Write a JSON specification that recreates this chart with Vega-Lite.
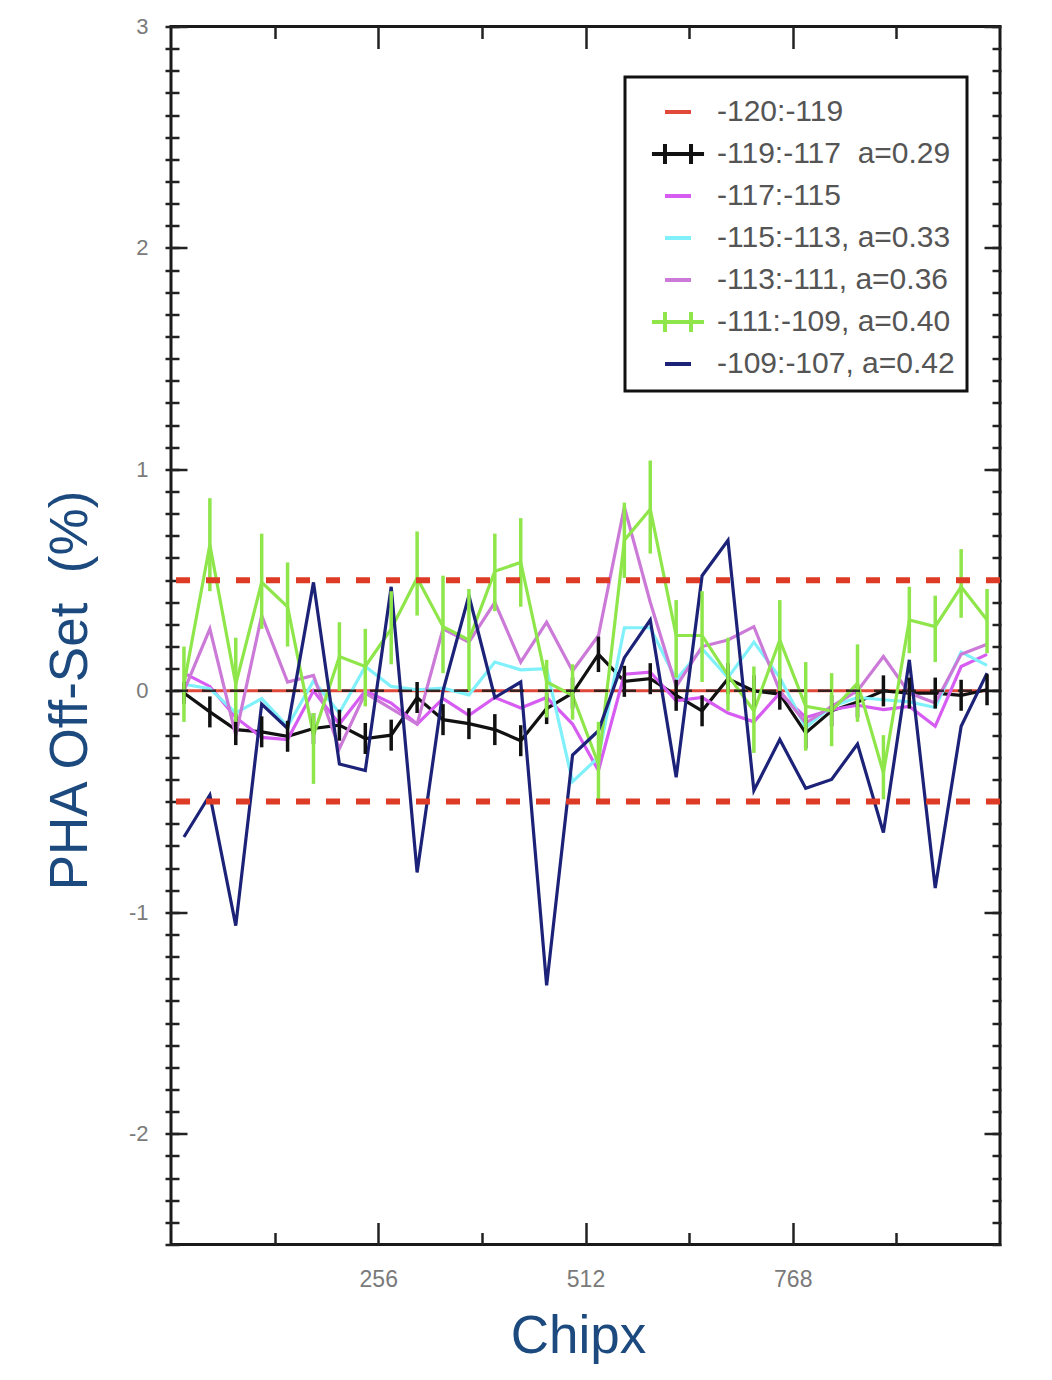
{
  "$schema": "https://vega.github.io/schema/vega-lite/v6.json",
  "width": 829,
  "height": 1218,
  "autosize": {"type": "none"},
  "padding": {"left": 171, "top": 26.5, "right": 52, "bottom": 135.5},
  "background": "white",
  "config": {
    "view": {"stroke": "#1a1a1a", "strokeWidth": 3},
    "axis": {
      "domain": false,
      "grid": false,
      "tickColor": "#222222",
      "tickWidth": 2.5,
      "labelFont": "Liberation Sans",
      "labelColor": "#7a7a7a",
      "labelFontSize": 22,
      "titleFont": "Liberation Sans",
      "titleFontWeight": "normal",
      "titleColor": "#1d4a7e",
      "titleFontSize": 53
    }
  },
  "datasets": {
    "pts": [
      {"x": 16, "R": 0, "K": -0.01, "M": 0.08, "C": 0.03, "O": 0.0, "G": 0.03, "B": -0.66},
      {"x": 48, "R": 0, "K": -0.095, "M": 0.02, "C": 0.01, "O": 0.28, "G": 0.66, "B": -0.47},
      {"x": 80, "R": 0, "K": -0.175, "M": -0.12, "C": -0.1, "O": -0.2, "G": 0.03, "B": -1.06},
      {"x": 112, "R": 0, "K": -0.185, "M": -0.21, "C": -0.035, "O": 0.34, "G": 0.49, "B": -0.06},
      {"x": 144, "R": 0, "K": -0.205, "M": -0.22, "C": -0.16, "O": 0.04, "G": 0.38, "B": -0.17},
      {"x": 176, "R": 0, "K": -0.17, "M": 0.0, "C": 0.045, "O": 0.07, "G": -0.2, "B": 0.49},
      {"x": 208, "R": 0, "K": -0.155, "M": -0.15, "C": -0.1, "O": -0.26, "G": 0.155, "B": -0.33},
      {"x": 240, "R": 0, "K": -0.215, "M": 0.0, "C": 0.11, "O": -0.01, "G": 0.11, "B": -0.36},
      {"x": 272, "R": 0, "K": -0.2, "M": -0.055, "C": 0.02, "O": -0.08, "G": 0.28, "B": 0.47},
      {"x": 304, "R": 0, "K": -0.03, "M": -0.15, "C": 0.005, "O": -0.15, "G": 0.51, "B": -0.82},
      {"x": 336, "R": 0, "K": -0.13, "M": -0.035, "C": 0.012, "O": 0.28, "G": 0.29, "B": 0.0},
      {"x": 368, "R": 0, "K": -0.148, "M": -0.11, "C": -0.018, "O": 0.22, "G": 0.23, "B": 0.43},
      {"x": 400, "R": 0, "K": -0.175, "M": -0.03, "C": 0.13, "O": 0.4, "G": 0.54, "B": -0.03},
      {"x": 432, "R": 0, "K": -0.225, "M": -0.077, "C": 0.095, "O": 0.13, "G": 0.58, "B": 0.04},
      {"x": 464, "R": 0, "K": -0.08, "M": -0.03, "C": 0.1, "O": 0.31, "G": 0.04, "B": -1.33},
      {"x": 496, "R": 0, "K": -0.01, "M": -0.15, "C": -0.41, "O": 0.09, "G": -0.02, "B": -0.29},
      {"x": 528, "R": 0, "K": 0.165, "M": -0.36, "C": -0.3, "O": 0.25, "G": -0.33, "B": -0.18},
      {"x": 560, "R": 0, "K": 0.043, "M": 0.075, "C": 0.285, "O": 0.83, "G": 0.68, "B": 0.15},
      {"x": 592, "R": 0, "K": 0.055, "M": 0.085, "C": 0.285, "O": 0.4, "G": 0.82, "B": 0.32},
      {"x": 624, "R": 0, "K": -0.02, "M": -0.045, "C": 0.05, "O": 0.02, "G": 0.25, "B": -0.39},
      {"x": 656, "R": 0, "K": -0.09, "M": -0.03, "C": 0.19, "O": 0.2, "G": 0.25, "B": 0.52},
      {"x": 688, "R": 0, "K": 0.055, "M": -0.1, "C": 0.06, "O": 0.23, "G": 0.07, "B": 0.68},
      {"x": 720, "R": 0, "K": 0.0, "M": -0.14, "C": 0.22, "O": 0.29, "G": -0.09, "B": -0.45},
      {"x": 752, "R": 0, "K": -0.015, "M": -0.01, "C": 0.06, "O": 0.0, "G": 0.23, "B": -0.22},
      {"x": 784, "R": 0, "K": -0.19, "M": -0.12, "C": -0.165, "O": -0.145, "G": -0.07, "B": -0.44},
      {"x": 816, "R": 0, "K": -0.09, "M": -0.085, "C": -0.07, "O": -0.07, "G": -0.09, "B": -0.4},
      {"x": 848, "R": 0, "K": -0.05, "M": -0.065, "C": -0.03, "O": 0.0, "G": 0.035, "B": -0.24},
      {"x": 880, "R": 0, "K": 0.0, "M": -0.085, "C": -0.04, "O": 0.155, "G": -0.37, "B": -0.64},
      {"x": 912, "R": 0, "K": -0.01, "M": -0.07, "C": -0.05, "O": -0.01, "G": 0.32, "B": 0.14},
      {"x": 944, "R": 0, "K": -0.01, "M": -0.16, "C": -0.075, "O": -0.055, "G": 0.29, "B": -0.89},
      {"x": 976, "R": 0, "K": -0.02, "M": 0.11, "C": 0.175, "O": 0.165, "G": 0.47, "B": -0.16},
      {"x": 1008, "R": 0, "K": 0.005, "M": 0.165, "C": 0.115, "O": 0.21, "G": 0.32, "B": 0.08}
    ],
    "err": [
      {"s": "K", "x": 16, "lo": -0.06, "hi": 0.04},
      {"s": "K", "x": 48, "lo": -0.165, "hi": -0.025},
      {"s": "K", "x": 80, "lo": -0.245, "hi": -0.105},
      {"s": "K", "x": 112, "lo": -0.255, "hi": -0.115},
      {"s": "K", "x": 144, "lo": -0.275, "hi": -0.135},
      {"s": "K", "x": 176, "lo": -0.24, "hi": -0.1},
      {"s": "K", "x": 208, "lo": -0.225, "hi": -0.085},
      {"s": "K", "x": 240, "lo": -0.285, "hi": -0.145},
      {"s": "K", "x": 272, "lo": -0.27, "hi": -0.13},
      {"s": "K", "x": 304, "lo": -0.1, "hi": 0.04},
      {"s": "K", "x": 336, "lo": -0.2, "hi": -0.06},
      {"s": "K", "x": 368, "lo": -0.218, "hi": -0.078},
      {"s": "K", "x": 400, "lo": -0.245, "hi": -0.105},
      {"s": "K", "x": 432, "lo": -0.295, "hi": -0.155},
      {"s": "K", "x": 464, "lo": -0.15, "hi": -0.01},
      {"s": "K", "x": 496, "lo": -0.08, "hi": 0.06},
      {"s": "K", "x": 528, "lo": 0.085, "hi": 0.245},
      {"s": "K", "x": 560, "lo": -0.027, "hi": 0.113},
      {"s": "K", "x": 592, "lo": -0.015, "hi": 0.125},
      {"s": "K", "x": 624, "lo": -0.09, "hi": 0.05},
      {"s": "K", "x": 656, "lo": -0.16, "hi": -0.02},
      {"s": "K", "x": 688, "lo": -0.015, "hi": 0.125},
      {"s": "K", "x": 720, "lo": -0.07, "hi": 0.07},
      {"s": "K", "x": 752, "lo": -0.085, "hi": 0.055},
      {"s": "K", "x": 784, "lo": -0.26, "hi": -0.12},
      {"s": "K", "x": 816, "lo": -0.16, "hi": -0.02},
      {"s": "K", "x": 848, "lo": -0.12, "hi": 0.02},
      {"s": "K", "x": 880, "lo": -0.07, "hi": 0.07},
      {"s": "K", "x": 912, "lo": -0.08, "hi": 0.06},
      {"s": "K", "x": 944, "lo": -0.08, "hi": 0.06},
      {"s": "K", "x": 976, "lo": -0.09, "hi": 0.05},
      {"s": "K", "x": 1008, "lo": -0.065, "hi": 0.075},
      {"s": "G", "x": 16, "lo": -0.14, "hi": 0.2},
      {"s": "G", "x": 48, "lo": 0.45, "hi": 0.87},
      {"s": "G", "x": 80, "lo": -0.14, "hi": 0.24},
      {"s": "G", "x": 112, "lo": 0.28, "hi": 0.71},
      {"s": "G", "x": 144, "lo": 0.2, "hi": 0.58},
      {"s": "G", "x": 176, "lo": -0.42, "hi": -0.1},
      {"s": "G", "x": 208, "lo": 0.0, "hi": 0.31},
      {"s": "G", "x": 240, "lo": -0.07, "hi": 0.28},
      {"s": "G", "x": 272, "lo": 0.12, "hi": 0.45},
      {"s": "G", "x": 304, "lo": 0.34, "hi": 0.72},
      {"s": "G", "x": 336, "lo": 0.08, "hi": 0.52},
      {"s": "G", "x": 368, "lo": 0.0, "hi": 0.46},
      {"s": "G", "x": 400, "lo": 0.36, "hi": 0.71},
      {"s": "G", "x": 432, "lo": 0.38, "hi": 0.78},
      {"s": "G", "x": 464, "lo": -0.12, "hi": 0.14},
      {"s": "G", "x": 496, "lo": -0.13, "hi": 0.12},
      {"s": "G", "x": 528, "lo": -0.49, "hi": -0.14},
      {"s": "G", "x": 560, "lo": 0.51, "hi": 0.85},
      {"s": "G", "x": 592, "lo": 0.62, "hi": 1.04},
      {"s": "G", "x": 624, "lo": 0.06, "hi": 0.41},
      {"s": "G", "x": 656, "lo": 0.04, "hi": 0.45},
      {"s": "G", "x": 688, "lo": -0.09, "hi": 0.24},
      {"s": "G", "x": 720, "lo": -0.28, "hi": 0.11},
      {"s": "G", "x": 752, "lo": 0.0, "hi": 0.41},
      {"s": "G", "x": 784, "lo": -0.27, "hi": 0.13},
      {"s": "G", "x": 816, "lo": -0.25, "hi": 0.08},
      {"s": "G", "x": 848, "lo": -0.14, "hi": 0.21},
      {"s": "G", "x": 880, "lo": -0.49, "hi": -0.2},
      {"s": "G", "x": 912, "lo": 0.17, "hi": 0.47},
      {"s": "G", "x": 944, "lo": 0.13, "hi": 0.43},
      {"s": "G", "x": 976, "lo": 0.33, "hi": 0.64},
      {"s": "G", "x": 1008, "lo": 0.17, "hi": 0.46}
    ]
  },
  "layer": [
    {
      "data": {"name": "pts"},
      "transform": [{"fold": ["R"], "as": ["s", "v"]}],
      "mark": {"type": "line", "strokeWidth": 3},
      "encoding": {
        "x": {
          "field": "x", "type": "quantitative",
          "scale": {"domain": [0, 1024], "nice": false, "zero": false},
          "axis": {"orient": "top", "values": [128, 384, 640, 896], "tickSize": 12, "offset": -12, "labels": false, "title": null}
        },
        "y": {
          "field": "v", "type": "quantitative",
          "scale": {"domain": [-2.5, 3], "nice": false, "zero": false},
          "axis": {"orient": "right", "values": [-2.5, -2.4, -2.3, -2.2, -2.1, -2, -1.9, -1.8, -1.7, -1.6, -1.5, -1.4, -1.3, -1.2, -1.1, -1, -0.9, -0.8, -0.7, -0.6, -0.5, -0.4, -0.3, -0.2, -0.1, 0, 0.1, 0.2, 0.3, 0.4, 0.5, 0.6, 0.7, 0.8, 0.9, 1, 1.1, 1.2, 1.3, 1.4, 1.5, 1.6, 1.7, 1.8, 1.9, 2, 2.1, 2.2, 2.3, 2.4, 2.5, 2.6, 2.7, 2.8, 2.9, 3], "tickSize": 9, "offset": -8, "labels": false, "title": null}
        },
        "color": {"field": "s", "type": "nominal"}
      }
    },
    {
      "data": {"name": "pts"},
      "transform": [{"fold": ["K", "M", "C", "O", "G", "B"], "as": ["s", "v"]}],
      "mark": {"type": "line", "strokeWidth": 3.2},
      "encoding": {
        "x": {
          "field": "x", "type": "quantitative",
          "axis": {"orient": "bottom", "values": [256, 512, 768], "tickSize": 22, "offset": -22, "labelPadding": 24, "labelFontSize": 23, "title": "Chipx", "titleX": 407, "titleY": 129.5, "titleAlign": "center", "titleBaseline": "alphabetic"}
        },
        "y": {
          "field": "v", "type": "quantitative",
          "axis": {"orient": "left", "values": [-2, -1, 0, 1, 2, 3], "tickSize": 16, "offset": -16, "labelPadding": 23, "labelExpr": "datum.value < 0 ? '-' + abs(datum.value) : '' + datum.value", "title": "PHA Off-Set\u00a0\u00a0(%)", "titleX": -117, "titleY": 663.5, "titleAngle": -90, "titleAlign": "center", "titleBaseline": "middle"}
        },
        "color": {
          "field": "s", "type": "nominal",
          "scale": {
            "domain": ["R", "K", "M", "C", "O", "G", "B"],
            "range": ["#e0493a", "#111111", "#d65cf2", "#80f0fa", "#cc7ad8", "#8fe64b", "#1c2278"]
          },
          "legend": {
            "title": null,
            "orient": "none",
            "legendX": 454,
            "legendY": 50.5,
            "padding": 12,
            "rowPadding": 0,
            "gridAlign": "all",
            "strokeColor": "#111111",
            "symbolSize": 1764,
            "symbolStrokeWidth": 4,
            "symbolOffset": 18,
            "labelFont": "Liberation Sans",
            "labelFontSize": 30,
            "labelColor": "#555555",
            "labelOffset": 16,
            "labelLimit": 400,
            "labelExpr": "datum.label == 'R' ? '-120:-119' : datum.label == 'K' ? '-119:-117\u00a0\u00a0a=0.29' : datum.label == 'M' ? '-117:-115' : datum.label == 'C' ? '-115:-113, a=0.33' : datum.label == 'O' ? '-113:-111, a=0.36' : datum.label == 'G' ? '-111:-109, a=0.40' : '-109:-107, a=0.42'",
            "encode": {"legend": {"update": {"strokeWidth": {"value": 3}}}}
          }
        }
      }
    },
    {
      "data": {"name": "err"},
      "mark": {"type": "rule", "strokeWidth": 3.5},
      "encoding": {
        "x": {
          "field": "x", "type": "quantitative",
          "axis": {"orient": "bottom", "values": [128, 384, 640, 896], "tickSize": 12, "offset": -12, "labels": false, "title": null}
        },
        "y": {
          "field": "lo", "type": "quantitative",
          "axis": {"orient": "left", "values": [-2.5, -2.4, -2.3, -2.2, -2.1, -2, -1.9, -1.8, -1.7, -1.6, -1.5, -1.4, -1.3, -1.2, -1.1, -1, -0.9, -0.8, -0.7, -0.6, -0.5, -0.4, -0.3, -0.2, -0.1, 0, 0.1, 0.2, 0.3, 0.4, 0.5, 0.6, 0.7, 0.8, 0.9, 1, 1.1, 1.2, 1.3, 1.4, 1.5, 1.6, 1.7, 1.8, 1.9, 2, 2.1, 2.2, 2.3, 2.4, 2.5, 2.6, 2.7, 2.8, 2.9, 3], "tickSize": 14, "offset": -8, "labels": false, "title": null}
        },
        "y2": {"field": "hi"},
        "color": {"field": "s", "type": "nominal"}
      }
    },
    {
      "data": {"name": "pts"},
      "transform": [
        {"fold": ["R", "K", "M", "C", "O", "G", "B"], "as": ["s", "v"]},
        {"filter": "datum.v > 9"}
      ],
      "mark": {"type": "point", "filled": false},
      "encoding": {
        "x": {
          "field": "x", "type": "quantitative",
          "axis": {"orient": "top", "values": [256, 512, 768], "tickSize": 22, "offset": -22, "labels": false, "title": null}
        },
        "y": {
          "field": "v", "type": "quantitative",
          "axis": {"orient": "right", "values": [-2, -1, 0, 1, 2, 3], "tickSize": 16, "offset": -16, "labels": false, "title": null}
        },
        "color": {"field": "s", "type": "nominal"},
        "shape": {
          "field": "s", "type": "nominal",
          "scale": {
            "domain": ["R", "K", "M", "C", "O", "G", "B"],
            "range": [
              "M-0.62,0H0.62",
              "M-1.24,0H1.24M-0.62,-0.48V0.48M0.62,-0.48V0.48",
              "M-0.62,0H0.62",
              "M-0.62,0H0.62",
              "M-0.62,0H0.62",
              "M-1.24,0H1.24M-0.62,-0.48V0.48M0.62,-0.48V0.48",
              "M-0.62,0H0.62"
            ]
          }
        }
      }
    },
    {
      "data": {"values": [{"y": 0.5}, {"y": -0.5}]},
      "mark": {"type": "rule", "color": "#dd3b26", "strokeWidth": 6, "strokeDash": [14, 16]},
      "encoding": {"y": {"field": "y", "type": "quantitative", "axis": null}}
    },
    {
      "data": {"values": [{"y": 0}]},
      "mark": {"type": "rule", "color": "#1a1a1a", "strokeWidth": 2.5, "strokeDash": [14, 14], "opacity": 0.85},
      "encoding": {"y": {"field": "y", "type": "quantitative", "axis": null}}
    }
  ],
  "resolve": {"axis": {"x": "independent", "y": "independent"}}
}
